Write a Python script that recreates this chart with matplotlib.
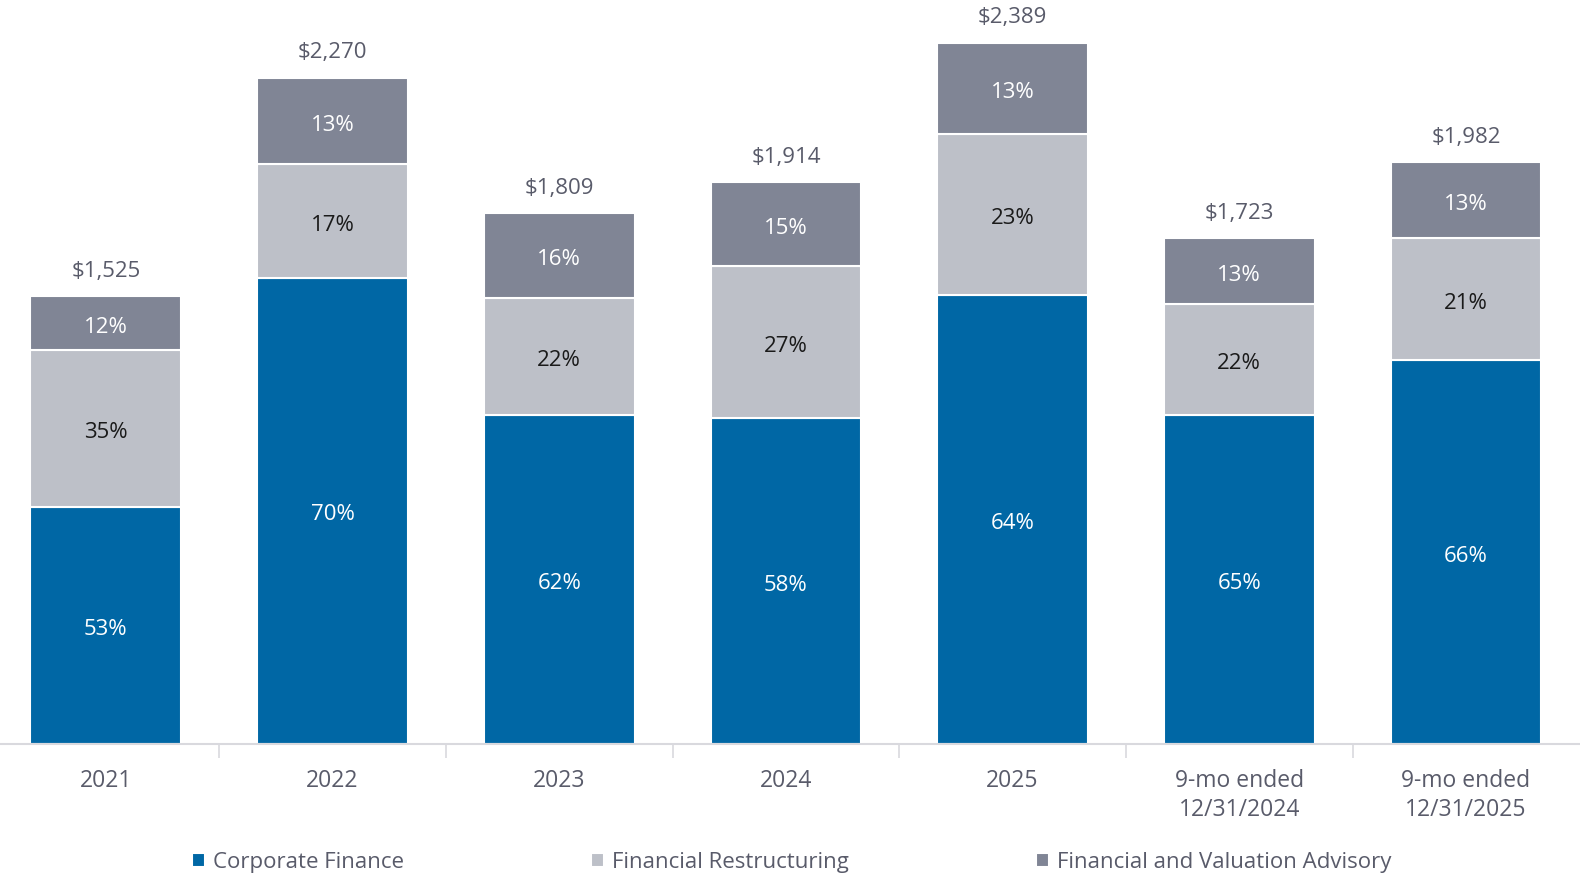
import matplotlib
matplotlib.use("Agg")
import matplotlib.pyplot as plt
import numpy as np

# ---- data ---------------------------------------------------------------
categories = ["2021", "2022", "2023", "2024", "2025",
              "9-mo ended\n12/31/2024", "9-mo ended\n12/31/2025"]
totals = [1525, 2270, 1809, 1914, 2389, 1723, 1982]
corp_fin = [53, 70, 62, 58, 64, 65, 66]
fin_restr = [35, 17, 22, 27, 23, 22, 21]
fva = [12, 13, 16, 15, 13, 13, 13]
series_names = ["Corporate Finance", "Financial Restructuring",
                "Financial and Valuation Advisory"]

colors = ["#0067A5", "#BDC0C8", "#808595"]
label_colors = ["white", "#1A1A1A", "white"]
text_color = "#595B6A"

plt.rcParams["font.family"] = ["Open Sans", "DejaVu Sans"]

fig = plt.figure(figsize=(15.8, 8.73), dpi=100)
ax = fig.add_axes([0.0, 0.148, 1.0, 0.852])

x = np.arange(len(categories))
totals_arr = np.array(totals, dtype=float)
bottom = np.zeros(len(categories))
for pcts, col, lcol, name in zip([corp_fin, fin_restr, fva], colors,
                                 label_colors, series_names):
    heights = totals_arr * np.array(pcts) / 100.0
    ax.bar(x, heights, bottom=bottom, width=0.665, color=col,
           edgecolor="white", linewidth=1.5, label=name)
    for xi, b, h, p in zip(x, bottom, heights, pcts):
        ax.annotate(f"{p}%", (xi, b + h / 2), xytext=(0, -3),
                    textcoords="offset points", ha="center", va="center",
                    fontsize=16, color=lcol)
    bottom += heights

for xi, t in zip(x, totals):
    ax.annotate(f"${t:,}", (xi, t), xytext=(0, 18), textcoords="offset points",
                ha="center", va="center", fontsize=16, color=text_color)

ax.set_xlim(-0.467, 6.503)
ax.set_ylim(0, 2535)
ax.set_xticks(x)
ax.set_xticklabels(categories, fontsize=16.5, color=text_color, linespacing=1.3)
ax.set_xticks(np.arange(0.5, 6.5, 1.0), minor=True)
ax.tick_params(axis="x", which="major", length=0, pad=18)
ax.tick_params(axis="x", which="minor", length=10, color="#D9D9DE", width=1.2)
ax.set_yticks([])
for side in ["top", "right", "left"]:
    ax.spines[side].set_visible(False)
ax.spines["bottom"].set_color("#D9D9DE")
ax.spines["bottom"].set_linewidth(1.5)

fig.legend(loc="center", bbox_to_anchor=(0.501, 0.012), ncol=3, frameon=False,
           fontsize=16, labelcolor=text_color, handlelength=0.6,
           handleheight=0.6, handletextpad=0.35, columnspacing=8.4)

fig.savefig("out.png", dpi=100)
